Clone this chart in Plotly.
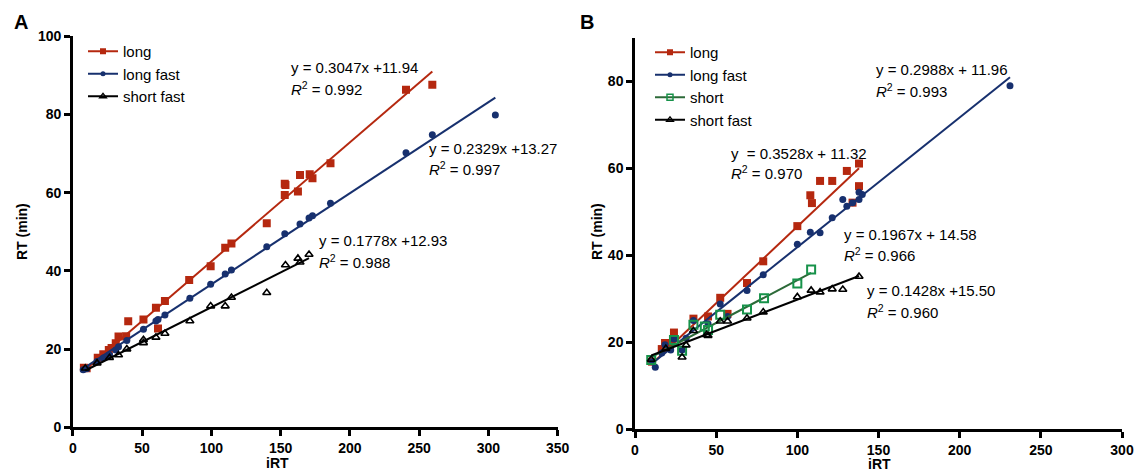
import plotly.graph_objects as go

# ---------------- data: panel A ----------------
long_A_x = [8, 10, 18, 22, 26, 28, 31, 33, 38.5, 40, 51, 60, 61.5, 66.5, 84, 99.5, 110, 114.5,
            140, 153, 153.5, 153, 162.5, 164, 171, 173, 186, 240.5, 259.5]
long_A_y = [15.2, 15.1, 17.8, 18.7, 19.8, 20.3, 21.5, 23.2, 23.3, 27.1, 27.6, 30.6, 25.3, 32.3, 37.7,
            41.2, 45.9, 47.0, 52.2, 62.3, 62.0, 59.4, 60.3, 64.5, 64.7, 63.7, 67.5, 86.3, 87.6]

long_fast_A_x = [7.5, 10, 17.5, 22, 26.5, 31, 33, 39, 51, 60, 61.5, 66.5, 84.5, 99.5, 110, 114.5,
                 140, 153, 164, 170.5, 173, 186, 240.5, 259.5, 305]
long_fast_A_y = [14.7, 15.0, 16.8, 17.7, 18.5, 19.8, 20.6, 22.2, 25.1, 27.2, 27.6, 28.7, 33.0, 36.6,
                 39.2, 40.2, 46.2, 49.5, 52.0, 53.5, 54.1, 57.3, 70.2, 74.8, 79.9]

short_fast_A_x = [9, 17.5, 26.5, 33, 39, 51, 51, 60, 66.5, 84.5, 99.5, 110, 114.5, 140, 153.5,
                  162.5, 164, 170.5]
short_fast_A_y = [15.1, 16.4, 17.8, 18.5, 20.0, 21.6, 22.4, 23.0, 24.0, 27.2, 31.0, 31.0, 33.2,
                  34.4, 41.5, 43.2, 42.2, 44.2]

fit_A_slope = [0.3047, 0.2329, 0.1778]
fit_A_icept = [11.94, 13.27, 12.93]
fit_A_eq = ["y = 0.3047x +11.94", "y = 0.2329x +13.27", "y = 0.1778x +12.93"]
fit_A_r2 = ["0.992", "0.997", "0.988"]

# ---------------- data: panel B ----------------
long_B_x = [10.5, 16.5, 18.5, 21.5, 24, 36, 45, 52.5, 57, 69, 79, 100, 108, 109, 114, 121.5,
            130.5, 134, 138, 138]
long_B_y = [15.5, 18.4, 19.8, 19.4, 22.2, 25.4, 25.9, 30.2, 26.5, 33.6, 38.6, 46.7, 53.8, 52.0,
            57.1, 57.1, 59.4, 52.1, 61.1, 55.9]

long_fast_B_x = [10.5, 12.5, 16.5, 18.5, 22, 24, 29, 31.5, 36, 45, 52.5, 57, 69, 79, 100, 108, 114,
                 121.5, 128, 130.5, 134, 138, 138, 140, 231]
long_fast_B_y = [15.5, 14.2, 17.5, 19.4, 18.2, 20.7, 18.2, 20.9, 25.0, 24.2, 28.8, 25.9, 31.9, 35.5,
                 42.5, 45.3, 45.2, 48.6, 52.8, 51.3, 52.1, 52.8, 54.5, 54.0, 79.0]

short_B_x = [10, 24, 29, 36, 43, 45, 52.5, 69, 79.5, 100, 108.5]
short_B_y = [15.9, 20.5, 18.0, 24.0, 23.6, 22.8, 26.3, 27.5, 30.1, 33.5, 36.7]

short_fast_B_x = [10, 19, 29, 31.5, 36, 44, 45, 52.5, 57, 69, 79, 100, 108.5, 114, 121.5, 128, 138]
short_fast_B_y = [16.0, 18.5, 16.5, 19.3, 22.6, 21.7, 21.5, 24.8, 24.8, 25.5, 26.9, 30.4, 31.9,
                  31.5, 32.2, 32.1, 35.1]

fit_B_slope = [0.3528, 0.2988, 0.1967, 0.1428]
fit_B_icept = [11.32, 11.96, 14.58, 15.50]
fit_B_eq = ["y  = 0.3528x + 11.32", "y = 0.2988x + 11.96", "y = 0.1967x + 14.58", "y = 0.1428x +15.50"]
fit_B_r2 = ["0.970", "0.993", "0.966", "0.960"]

x_ticks_A = [0, 50, 100, 150, 200, 250, 300, 350]
y_ticks_A = [0, 20, 40, 60, 80, 100]
x_ticks_B = [0, 50, 100, 150, 200, 250, 300]
y_ticks_B = [0, 20, 40, 60, 80]

# ---------------- styles ----------------
RED = "#B5280F"
BLUE = "#17306E"
GREEN_M = "#17924A"
GREEN_L = "#2C6A38"
BLACK = "#000000"
FONT = "Arial, Liberation Sans, sans-serif"

styles = {
    "long": dict(color=RED, symbol="square", size=8, line=dict(width=0)),
    "long fast": dict(color=BLUE, symbol="circle", size=7, line=dict(width=0)),
    "short": dict(color=GREEN_M, symbol="square-open", size=8, line=dict(width=2)),
    "short fast": dict(color=BLACK, symbol="triangle-up-open", size=7, line=dict(width=1.6)),
}
line_colors = {"long": RED, "long fast": BLUE, "short": GREEN_L, "short fast": BLACK}
legend_marker = {
    "long": dict(color=RED, symbol="square", size=6),
    "long fast": dict(color=BLUE, symbol="circle", size=5),
    "short": dict(color=GREEN_M, symbol="square-open", size=6, line=dict(width=1.5)),
    "short fast": dict(color=BLACK, symbol="triangle-up-open", size=6, line=dict(width=1.3)),
}

fig = go.Figure()


def add_series(name, xs, ys, slope, icept, xa, ya, leg):
    # fitted line over the data range
    x0, x1 = min(xs), max(xs)
    fig.add_trace(go.Scatter(x=[x0, x1], y=[slope * x0 + icept, slope * x1 + icept],
                             mode="lines", line=dict(color=line_colors[name], width=2),
                             xaxis=xa, yaxis=ya, showlegend=False, hoverinfo="skip"))
    fig.add_trace(go.Scatter(x=xs, y=ys, mode="markers", marker=styles[name],
                             xaxis=xa, yaxis=ya, showlegend=False, name=name))
    # legend entry
    fig.add_trace(go.Scatter(x=[None], y=[None], mode="lines+markers", name=name,
                             line=dict(color=line_colors[name], width=2),
                             marker=legend_marker[name], xaxis=xa, yaxis=ya,
                             legend=leg, showlegend=True))


series_A = [("long", long_A_x, long_A_y), ("long fast", long_fast_A_x, long_fast_A_y),
            ("short fast", short_fast_A_x, short_fast_A_y)]
for i, (n, xs, ys) in enumerate(series_A):
    add_series(n, xs, ys, fit_A_slope[i], fit_A_icept[i], "x", "y", "legend")

series_B = [("long", long_B_x, long_B_y), ("long fast", long_fast_B_x, long_fast_B_y),
            ("short", short_B_x, short_B_y), ("short fast", short_fast_B_x, short_fast_B_y)]
for i, (n, xs, ys) in enumerate(series_B):
    add_series(n, xs, ys, fit_B_slope[i], fit_B_icept[i], "x2", "y2", "legend2")

# equation annotations (position: x, y of first line, y of second line)
eq_pos_A = [(156, 92.0, 86.7), (256, 71.2, 66.2), (176, 47.9, 42.5)]
eq_pos_B = [(58, 63.5, 59.0), (147, 82.7, 78.0), (127.3, 44.8, 40.2), (141.7, 31.8, 27.1)]

annotations = []


def add_eq(text, r2, pos, xr, yr):
    x, y1, y2 = pos
    annotations.append(dict(x=x, y=y1, xref=xr, yref=yr, text=text, showarrow=False,
                            xanchor="left", yanchor="middle",
                            font=dict(family=FONT, size=15, color="black")))
    annotations.append(dict(x=x, y=y2, xref=xr, yref=yr,
                            text="<i>R</i><sup>2</sup> = " + r2, showarrow=False,
                            xanchor="left", yanchor="middle",
                            font=dict(family=FONT, size=15, color="black")))


for i in range(3):
    add_eq(fit_A_eq[i], fit_A_r2[i], eq_pos_A[i], "x", "y")
for i in range(4):
    add_eq(fit_B_eq[i], fit_B_r2[i], eq_pos_B[i], "x2", "y2")

W, H = 1138, 472
bold = dict(family=FONT, size=20, color="black", weight="bold")
titlefont = dict(family=FONT, size=14, color="black", weight="bold")
annotations += [
    dict(x=12 / W, y=1 - 22 / H, xref="paper", yref="paper", text="A", showarrow=False,
         xanchor="left", yanchor="middle", font=bold),
    dict(x=578 / W, y=1 - 22 / H, xref="paper", yref="paper", text="B", showarrow=False,
         xanchor="left", yanchor="middle", font=bold),
    dict(x=277 / W, y=1 - 463 / H, xref="paper", yref="paper", text="iRT", showarrow=False,
         xanchor="center", yanchor="middle", font=titlefont),
    dict(x=879 / W, y=1 - 464 / H, xref="paper", yref="paper", text="iRT", showarrow=False,
         xanchor="center", yanchor="middle", font=titlefont),
    dict(x=22 / W, y=1 - 232 / H, xref="paper", yref="paper", text="RT (min)", showarrow=False,
         textangle=-90, xanchor="center", yanchor="middle", font=titlefont),
    dict(x=597 / W, y=1 - 232 / H, xref="paper", yref="paper", text="RT (min)", showarrow=False,
         textangle=-90, xanchor="center", yanchor="middle", font=titlefont),
]

axis_common = dict(showline=True, linewidth=2.5, linecolor="black", ticks="outside",
                   ticklen=6, tickwidth=2.5, tickcolor="black", showgrid=False,
                   zeroline=False, mirror=False, automargin=False,
                   tickfont=dict(family=FONT, size=14, color="black", weight="bold"))

fig.update_layout(
    width=W, height=H, autosize=False,
    margin=dict(l=0, r=0, t=0, b=0, autoexpand=False),
    paper_bgcolor="white", plot_bgcolor="white",
    xaxis=dict(axis_common, domain=[72.8 / W, 557.7 / W], range=[0, 350],
               tickvals=x_ticks_A, anchor="y"),
    yaxis=dict(axis_common, domain=[1 - 427.3 / H, 1 - 36.3 / H], range=[0, 100],
               tickvals=y_ticks_A, anchor="x"),
    xaxis2=dict(axis_common, domain=[635 / W, 1122 / W], range=[0, 300],
                tickvals=x_ticks_B, anchor="y2"),
    yaxis2=dict(axis_common, domain=[1 - 429 / H, 1 - 38 / H], range=[0, 90],
                tickvals=y_ticks_B, anchor="x2"),
    legend=dict(x=83 / W, y=1 - 35 / H, xanchor="left", yanchor="top",
                font=dict(family=FONT, size=15, color="black"), bgcolor="rgba(0,0,0,0)",
                tracegroupgap=0, itemwidth=30),
    legend2=dict(x=650 / W, y=1 - 36 / H, xanchor="left", yanchor="top",
                 font=dict(family=FONT, size=15, color="black"), bgcolor="rgba(0,0,0,0)",
                 tracegroupgap=0, itemwidth=30),
    annotations=annotations,
)

fig.write_html("out.html")
